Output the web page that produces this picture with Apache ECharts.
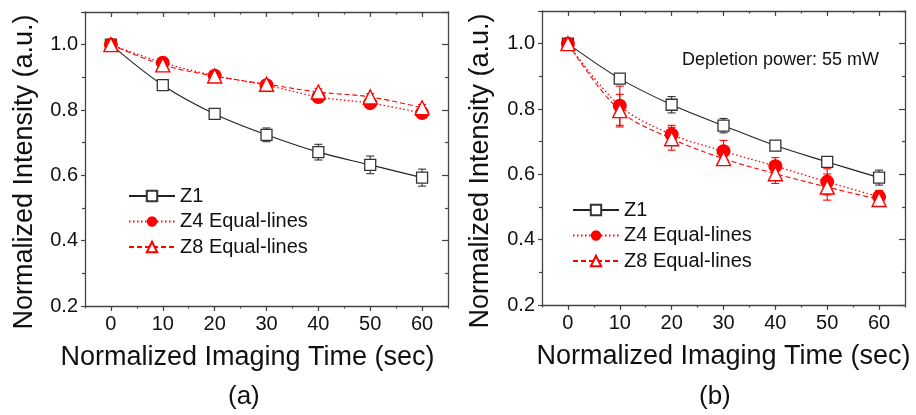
<!DOCTYPE html>
<html><head><meta charset="utf-8">
<script src="https://cdn.jsdelivr.net/npm/echarts@6/dist/echarts.min.js"></script>
<style>html,body{margin:0;padding:0;background:#fff}#c{width:916px;height:415px}</style>
</head><body><div id="c"></div>
<script>
const times = [0, 10, 20, 30, 40, 50, 60];
const xTicks = [0, 10, 20, 30, 40, 50, 60];
const yTicks = [0.2, 0.4, 0.6, 0.8, 1.0];
// panel (a)
const a_Z1 = [1.0, 0.876, 0.788, 0.724, 0.671, 0.632, 0.593];
const a_Z1_err = [0, 0.012, 0.016, 0.021, 0.024, 0.027, 0.026];
const a_Z4 = [1.0, 0.945, 0.905, 0.876, 0.840, 0.821, 0.791];
const a_Z4_err = [0, 0.012, 0.012, 0.01, 0.01, 0.01, 0.01];
const a_Z8 = [1.0, 0.938, 0.904, 0.879, 0.855, 0.840, 0.807];
const a_Z8_err = [0, 0.016, 0.012, 0.01, 0.01, 0.01, 0.01];
// panel (b)
const b_Z1 = [1.0, 0.893, 0.813, 0.749, 0.688, 0.638, 0.590];
const b_Z1_err = [0, 0.015, 0.025, 0.022, 0.01, 0.01, 0.023];
const b_Z4 = [1.0, 0.810, 0.722, 0.671, 0.625, 0.577, 0.531];
const b_Z4_err = [0, 0.06, 0.028, 0.033, 0.026, 0.04, 0.02];
const b_Z8 = [1.0, 0.795, 0.709, 0.648, 0.602, 0.561, 0.523];
const b_Z8_err = [0, 0.05, 0.035, 0.02, 0.03, 0.04, 0.02];
const names = ['Z1', 'Z4 Equal-lines', 'Z8 Equal-lines'];

const FONT = "'Liberation Sans', Arial, sans-serif";
const BLACK = '#111';
const AX = '#444';
const RED = '#ff0000';

const chart = echarts.init(document.getElementById('c'), null, {renderer: 'canvas'});

// kind: 'main' (bottom, labels + major ticks), 'top' (major ticks inside), 'minorB', 'minorT'
function xAx(grid, kind, namePad) {
  const isMain = kind === 'main';
  const isTop = kind === 'top' || kind === 'minorT';
  const isMinor = kind === 'minorB' || kind === 'minorT';
  const ax = {
    type: 'value', gridIndex: grid, position: isTop ? 'top' : 'bottom',
    min: -5, max: 65, interval: 5,
    axisLine: {show: !isMinor, onZero: false, lineStyle: {color: AX, width: 1.3}},
    axisTick: {show: true, inside: isTop, length: isMinor ? 2.5 : 5, lineStyle: {color: AX, width: 1.2}},
    splitLine: {show: false},
    axisLabel: {show: false}
  };
  if (!isMinor) {
    ax.axisTick.customValues = xTicks;
  }
  if (isMain) {
    ax.axisLabel = {show: true, customValues: xTicks, fontFamily: FONT, fontSize: 20, color: BLACK, margin: 8};
    ax.name = 'Normalized Imaging Time (sec)';
    ax.nameLocation = 'middle';
    ax.nameGap = 38;
    ax.nameTextStyle = {fontFamily: FONT, fontSize: 27, color: BLACK, padding: namePad};
  }
  return ax;
}
function yAx(grid, pos, gap) {
  const main = pos === 'left';
  return {
    type: 'value', gridIndex: grid, position: pos, min: 0.2, max: 1.1, interval: 0.2,
    axisLine: {show: true, onZero: false, lineStyle: {color: AX, width: 1.3}},
    axisTick: {show: true, inside: !main, length: main ? 4 : 6, lineStyle: {color: AX, width: 1.2}},
    minorTick: {show: true, splitNumber: 2, length: 3, lineStyle: {color: AX, width: 1.2}},
    splitLine: {show: false},
    axisLabel: {show: main, fontFamily: FONT, fontSize: 20, color: BLACK, margin: 7,
      formatter: v => (yTicks.some(t => Math.abs(t - v) < 1e-6) ? v.toFixed(1) : '')},
    name: main ? 'Normalized Intensity (a.u.)' : '',
    nameLocation: 'middle', nameGap: gap, nameRotate: 90,
    nameTextStyle: {fontFamily: FONT, fontSize: 27, color: BLACK, padding: [0, 26, 0, 0]}
  };
}

function pairs(v) { return times.map((t, i) => [t, v[i]]); }
function errData(v, e) { return times.map((t, i) => [t, v[i], e[i]]).filter(d => d[2] > 0); }

function errSeries(xi, yi, v, e, color) {
  return {
    type: 'custom', xAxisIndex: xi, yAxisIndex: yi, z: 1, silent: true,
    data: errData(v, e),
    renderItem: function (params, api) {
      const x = api.value(0), y = api.value(1), er = api.value(2);
      const top = api.coord([x, y + er]);
      const bot = api.coord([x, y - er]);
      const w = 4;
      const st = {stroke: color, lineWidth: 1.1};
      return {type: 'group', children: [
        {type: 'line', shape: {x1: top[0], y1: top[1], x2: bot[0], y2: bot[1]}, style: st},
        {type: 'line', shape: {x1: top[0] - w, y1: top[1], x2: top[0] + w, y2: top[1]}, style: st},
        {type: 'line', shape: {x1: bot[0] - w, y1: bot[1], x2: bot[0] + w, y2: bot[1]}, style: st}
      ]};
    }
  };
}

function lineSeries(name, xi, yi, v, kind) {
  const base = {name: name, type: 'line', xAxisIndex: xi, yAxisIndex: yi, data: pairs(v),
    smooth: 0.35, z: 3, showAllSymbol: true};
  if (kind === 0) {
    Object.assign(base, {symbol: 'rect', symbolSize: 11,
      lineStyle: {color: '#222', width: 1.1, type: 'solid'},
      itemStyle: {color: '#fff', borderColor: '#333', borderWidth: 1.3}});
  } else if (kind === 1) {
    Object.assign(base, {symbol: 'circle', symbolSize: 14,
      lineStyle: {color: RED, width: 1.3, type: [1.5, 2.5]},
      itemStyle: {color: RED, borderColor: RED, borderWidth: 0}});
  } else {
    Object.assign(base, {symbol: 'triangle', symbolSize: 14,
      lineStyle: {color: RED, width: 1.1, type: [5, 3]},
      itemStyle: {color: '#fff', borderColor: RED, borderWidth: 1.4}});
  }
  return base;
}

const legendCommon = {
  orient: 'vertical', itemWidth: 46, itemHeight: 13, itemGap: 5.5,
  data: names, selectedMode: false,
  textStyle: {fontFamily: FONT, fontSize: 20, lineHeight: 20, color: BLACK}
};

const option = {
  animation: false,
  backgroundColor: '#fff',
  grid: [
    {left: 85, top: 12, width: 363, height: 294, containLabel: false},
    {left: 542, top: 11, width: 363, height: 294, containLabel: false}
  ],
  xAxis: [
    xAx(0, 'main', [0, 38, 0, 0]), xAx(0, 'top'), xAx(0, 'minorB'), xAx(0, 'minorT'),
    xAx(1, 'main', [0, 0, 0, 0]), xAx(1, 'top'), xAx(1, 'minorB'), xAx(1, 'minorT')
  ],
  yAxis: [yAx(0, 'left', 47), yAx(0, 'right'), yAx(1, 'left', 48), yAx(1, 'right')],
  legend: [
    Object.assign({left: 123, top: 181}, legendCommon),
    Object.assign({left: 567, top: 195}, legendCommon)
  ],
  graphic: [
    {type: 'text', left: 228, top: 384, style: {text: '(a)', font: '26px ' + FONT, fill: BLACK}},
    {type: 'text', left: 699, top: 384, style: {text: '(b)', font: '26px ' + FONT, fill: BLACK}},
    {type: 'text', left: 682, top: 51, style: {text: 'Depletion power: 55 mW', font: '18px ' + FONT, fill: BLACK}}
  ],
  series: [
    errSeries(0, 0, a_Z1, a_Z1_err, '#333'),
    errSeries(0, 0, a_Z4, a_Z4_err, RED),
    errSeries(0, 0, a_Z8, a_Z8_err, RED),
    lineSeries(names[0], 0, 0, a_Z1, 0),
    lineSeries(names[1], 0, 0, a_Z4, 1),
    lineSeries(names[2], 0, 0, a_Z8, 2),
    errSeries(4, 2, b_Z1, b_Z1_err, '#333'),
    errSeries(4, 2, b_Z4, b_Z4_err, RED),
    errSeries(4, 2, b_Z8, b_Z8_err, RED),
    lineSeries(names[0], 4, 2, b_Z1, 0),
    lineSeries(names[1], 4, 2, b_Z4, 1),
    lineSeries(names[2], 4, 2, b_Z8, 2)
  ]
};
chart.setOption(option);
</script>
</body></html>
